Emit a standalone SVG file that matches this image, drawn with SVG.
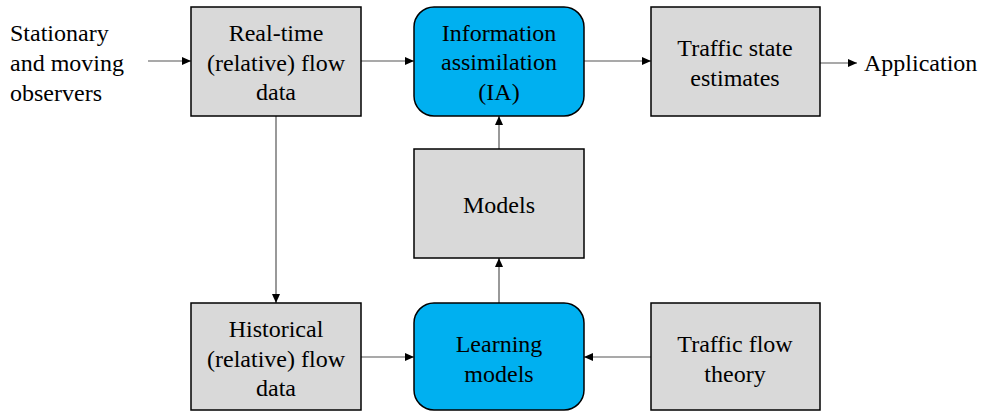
<svg xmlns="http://www.w3.org/2000/svg" width="985" height="415" viewBox="0 0 985 415">
<defs>
<marker id="ah" markerWidth="10" markerHeight="10" refX="9" refY="5" orient="auto" markerUnits="userSpaceOnUse">
<path d="M0,1 L9,5 L0,9 Z" fill="#000"/>
</marker>
<style>
.g{fill:#d9d9d9;stroke:#000;stroke-width:1.5}
.b{fill:#00b0f0;stroke:#000;stroke-width:1.5}
.c{text-anchor:middle}
.l{fill:none;stroke:#555;stroke-width:1.2;marker-end:url(#ah)}
.t{font-family:'Liberation Serif','Tinos','Times New Roman','DejaVu Serif',serif;font-size:24px;fill:#000}
</style>
</defs>
<rect width="985" height="415" fill="#fff"/>
<g id="connectors">
<path class="l" d="M148,61 H191"/>
<path class="l" d="M361,61 H414"/>
<path class="l" d="M584,61 H651"/>
<path class="l" d="M820,63 H857"/>
<path class="l" d="M276,116 V303"/>
<path class="l" d="M499,149 V116"/>
<path class="l" d="M499,303 V258"/>
<path class="l" d="M361,357 H414"/>
<path class="l" d="M651,357 H584"/>
</g>
<g class="t">
<g id="observers">
<text x="10" y="41">Stationary</text>
<text x="10" y="71">and moving</text>
<text x="10" y="101">observers</text>
</g>
<g id="realtime">
<rect class="g" x="191" y="7" width="170" height="109"/>
<text class="c" x="276" y="41">Real-time</text>
<text class="c" x="276" y="71">(relative) flow</text>
<text class="c" x="276" y="100">data</text>
</g>
<g id="ia">
<rect class="b" x="414" y="7" width="170" height="109" rx="20"/>
<text class="c" x="499" y="41">Information</text>
<text class="c" x="499" y="70">assimilation</text>
<text class="c" x="499" y="100">(IA)</text>
</g>
<g id="traffic-state">
<rect class="g" x="651" y="7" width="169" height="109"/>
<text class="c" x="735" y="56">Traffic state</text>
<text class="c" x="735" y="86">estimates</text>
</g>
<g id="application">
<text x="864" y="71">Application</text>
</g>
<g id="models">
<rect class="g" x="414" y="149" width="170" height="109"/>
<text class="c" x="499" y="213">Models</text>
</g>
<g id="historical">
<rect class="g" x="191" y="303" width="170" height="107"/>
<text class="c" x="276" y="337">Historical</text>
<text class="c" x="276" y="367">(relative) flow</text>
<text class="c" x="276" y="396">data</text>
</g>
<g id="learning">
<rect class="b" x="414" y="303" width="170" height="107" rx="20"/>
<text class="c" x="499" y="352">Learning</text>
<text class="c" x="499" y="382">models</text>
</g>
<g id="theory">
<rect class="g" x="651" y="303" width="169" height="107"/>
<text class="c" x="735" y="352">Traffic flow</text>
<text class="c" x="735" y="382">theory</text>
</g>
</g>
</svg>
